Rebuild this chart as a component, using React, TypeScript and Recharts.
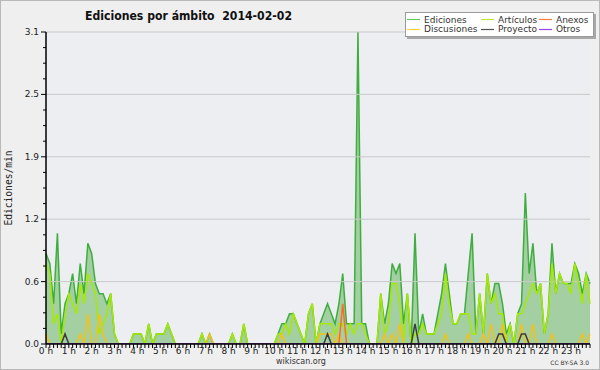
import React from 'react';
import { ComposedChart, Area, Line, XAxis, YAxis, ReferenceLine, CartesianGrid } from 'recharts';

// 10-minute slots, 0:00 .. 23:50 (144 values per series), edits per minute
const ediciones = [
  0.9, 0.8, 0.4, 1.1, 0.1, 0.4, 0.5, 0.7, 0.4, 0.8, 0.5, 1.0,
  0.9, 0.6, 0.5, 0.5, 0.4, 0.5, 0.1, 0, 0, 0, 0, 0.1,
  0.1, 0.1, 0, 0.2, 0, 0.1, 0.1, 0.1, 0.2, 0.1, 0, 0,
  0, 0, 0, 0, 0, 0.1, 0, 0.1, 0, 0, 0, 0,
  0, 0.1, 0, 0, 0.2, 0, 0, 0, 0, 0, 0, 0,
  0, 0.1, 0.2, 0.2, 0.3, 0.3, 0.2, 0.1, 0, 0.3, 0.4, 0,
  0.2, 0.3, 0.4, 0.3, 0.2, 0.4, 0.7, 0.2, 0.2, 0.2, 3.1, 0.2,
  0.2, 0, 0, 0, 0.5, 0.2, 0.4, 0.8, 0.7, 0.8, 0.2, 0.5,
  0, 1.1, 0.1, 0.3, 0.1, 0.1, 0.1, 0.3, 0.5, 0.8, 0.5, 0.2,
  0.2, 0.3, 0.3, 0.7, 1.1, 0.1, 0.5, 0.1, 0.7, 0.4, 0.6, 0.6,
  0.4, 0.1, 0.2, 0, 0.3, 0.4, 1.5, 0.7, 1.0, 0.5, 0.6, 0.1,
  0.3, 1.0, 0.5, 0.7, 0.6, 0.6, 0.6, 0.8, 0.7, 0.5, 0.7, 0.6,
];

const articulos = [
  0.8, 0.7, 0.2, 0.3, 0, 0.3, 0.5, 0.4, 0.3, 0.6, 0.4, 0.7,
  0.6, 0.5, 0.1, 0.2, 0.3, 0.5, 0.1, 0, 0, 0, 0, 0.1,
  0.1, 0.1, 0, 0.2, 0, 0.1, 0.1, 0.1, 0.2, 0.1, 0, 0,
  0, 0, 0, 0, 0, 0.1, 0, 0, 0, 0, 0, 0,
  0, 0.1, 0, 0, 0.2, 0, 0, 0, 0, 0, 0, 0,
  0, 0.1, 0.1, 0.2, 0.1, 0.3, 0.2, 0.1, 0, 0.3, 0.4, 0,
  0.2, 0.2, 0.2, 0.2, 0.1, 0.2, 0.2, 0.1, 0.2, 0.1, 0.2, 0.2,
  0.1, 0, 0, 0, 0.5, 0.1, 0.2, 0.6, 0.6, 0.4, 0, 0.5,
  0, 0.1, 0.1, 0.2, 0.1, 0.1, 0.1, 0.2, 0.3, 0.7, 0.4, 0.2,
  0.2, 0.3, 0.3, 0.3, 0.1, 0.1, 0.5, 0.1, 0.7, 0.4, 0.5, 0.3,
  0.3, 0, 0.2, 0, 0.3, 0.3, 0.4, 0.5, 0.6, 0.5, 0.6, 0.1,
  0.3, 0.8, 0.5, 0.7, 0.6, 0.6, 0.5, 0.8, 0.6, 0.4, 0.7, 0.4,
];

const anexos = [
  0, 0, 0, 0, 0, 0, 0, 0, 0, 0, 0, 0,
  0, 0, 0, 0, 0, 0, 0, 0, 0, 0, 0, 0,
  0, 0, 0, 0, 0, 0, 0, 0, 0, 0, 0, 0,
  0, 0, 0, 0, 0, 0, 0, 0, 0, 0, 0, 0,
  0, 0, 0, 0, 0, 0, 0, 0, 0, 0, 0, 0,
  0, 0, 0, 0, 0, 0, 0, 0, 0, 0, 0, 0,
  0, 0, 0, 0, 0, 0, 0.4, 0, 0, 0, 0, 0,
  0, 0, 0, 0, 0, 0, 0, 0, 0, 0, 0, 0,
  0, 0, 0, 0, 0, 0, 0, 0, 0, 0, 0, 0,
  0, 0, 0, 0, 0, 0, 0, 0, 0, 0, 0, 0,
  0, 0, 0, 0, 0, 0, 0, 0, 0, 0, 0, 0,
  0, 0, 0, 0, 0, 0, 0, 0, 0, 0, 0, 0,
];

const discusiones = [
  0.1, 0, 0, 0, 0, 0, 0, 0, 0, 0.1, 0, 0.3,
  0, 0, 0.3, 0.1, 0, 0, 0, 0, 0, 0, 0, 0,
  0, 0, 0, 0, 0, 0, 0, 0, 0, 0, 0, 0,
  0, 0, 0, 0, 0, 0, 0, 0.1, 0, 0, 0, 0,
  0, 0, 0, 0, 0, 0, 0, 0, 0, 0, 0, 0,
  0, 0, 0.1, 0, 0, 0, 0, 0, 0, 0, 0, 0,
  0.1, 0.1, 0.1, 0.1, 0, 0.1, 0, 0, 0, 0, 0, 0,
  0, 0, 0, 0, 0, 0.1, 0, 0.1, 0, 0.2, 0, 0,
  0, 0, 0, 0, 0, 0, 0, 0, 0, 0.1, 0, 0,
  0, 0, 0, 0.1, 0, 0, 0, 0.1, 0, 0.2, 0, 0,
  0.2, 0, 0, 0, 0, 0.2, 0, 0, 0.2, 0, 0, 0,
  0, 0.1, 0, 0, 0, 0, 0, 0, 0, 0.1, 0, 0.1,
];

const proyecto = [
  0, 0, 0, 0, 0, 0.1, 0, 0, 0, 0, 0, 0,
  0, 0, 0, 0, 0, 0, 0, 0, 0, 0, 0, 0,
  0, 0, 0, 0, 0, 0, 0, 0, 0, 0, 0, 0,
  0, 0, 0, 0, 0, 0, 0, 0, 0, 0, 0, 0,
  0, 0, 0, 0, 0, 0, 0, 0, 0, 0, 0, 0,
  0, 0, 0, 0, 0, 0, 0, 0, 0, 0, 0, 0,
  0, 0, 0.1, 0, 0, 0, 0, 0, 0, 0, 0, 0,
  0, 0, 0, 0, 0, 0, 0, 0, 0, 0, 0, 0,
  0, 0.2, 0, 0, 0, 0, 0, 0, 0, 0, 0, 0,
  0, 0, 0, 0, 0, 0, 0, 0, 0, 0, 0, 0.1,
  0.1, 0, 0, 0, 0, 0.1, 0.1, 0, 0, 0, 0, 0,
  0, 0, 0, 0, 0, 0, 0, 0, 0, 0, 0, 0,
];

const otros = [
  0, 0, 0, 0, 0, 0, 0, 0, 0, 0, 0, 0,
  0, 0, 0, 0, 0, 0, 0, 0, 0, 0, 0, 0,
  0, 0, 0, 0, 0, 0, 0, 0, 0, 0, 0, 0,
  0, 0, 0, 0, 0, 0, 0, 0, 0, 0, 0, 0,
  0, 0, 0, 0, 0, 0, 0, 0, 0, 0, 0, 0,
  0, 0, 0, 0, 0, 0, 0, 0, 0, 0, 0, 0,
  0, 0, 0, 0, 0, 0, 0, 0, 0, 0, 0, 0,
  0, 0, 0, 0, 0, 0, 0, 0, 0, 0, 0, 0,
  0, 0, 0, 0, 0, 0, 0, 0, 0, 0, 0, 0,
  0, 0, 0, 0, 0, 0, 0, 0, 0, 0, 0, 0,
  0, 0, 0, 0, 0, 0, 0, 0, 0, 0, 0, 0,
  0, 0, 0, 0, 0, 0, 0, 0, 0, 0, 0, 0,
];

const hourLabels = [
  '0 h', '1 h', '2 h', '3 h', '4 h', '5 h', '6 h', '7 h', '8 h', '9 h', '10 h', '11 h',
  '12 h', '13 h', '14 h', '15 h', '16 h', '17 h', '18 h', '19 h', '20 h', '21 h', '22 h', '23 h',
];

const yTickValues = [0, 0.62, 1.24, 1.86, 2.48, 3.1];
const yTickLabels = ['0.0', '0.6', '1.2', '1.9', '2.5', '3.1'];

const title = 'Ediciones por ámbito  2014-02-02';
const yTitle = 'Ediciones/min';

const legendItems = [
  { key: 'ediciones', name: 'Ediciones', color: '#66c766', col: 0, row: 0 },
  { key: 'articulos', name: 'Artículos', color: '#bde832', col: 1, row: 0 },
  { key: 'anexos', name: 'Anexos', color: '#ff7a45', col: 2, row: 0 },
  { key: 'discusiones', name: 'Discusiones', color: '#ffd23a', col: 0, row: 1 },
  { key: 'proyecto', name: 'Proyecto', color: '#555555', col: 1, row: 1 },
  { key: 'otros', name: 'Otros', color: '#9a45f5', col: 2, row: 1 },
];

const data = ediciones.map((v, i) => ({
  t: i,
  ediciones: v,
  articulos: articulos[i],
  anexos: anexos[i],
  discusiones: discusiones[i],
  proyecto: proyecto[i],
  otros: otros[i],
}));

const xTicks = data.map((d) => d.t);
const yTicks: number[] = [];
for (let k = 0; k < yTickValues.length - 1; k++) {
  for (let j = 0; j < 4; j++) {
    yTicks.push(yTickValues[k] + ((yTickValues[k + 1] - yTickValues[k]) * j) / 4);
  }
}
yTicks.push(yTickValues[yTickValues.length - 1]);

const FONT = '"DejaVu Sans", Verdana, sans-serif';

const XTick = (props: any) => {
  const { x, y, payload } = props;
  const i = payload.value as number;
  const isHour = i % 6 === 0;
  return (
    <g>
      <line x1={x} x2={x} y1={y} y2={y + 4} stroke="#000" strokeWidth={1} />
      {isHour && (
        <text x={x} y={y + 10} textAnchor="middle" fontSize={9} fill="#222" fontFamily={FONT}>
          {hourLabels[i / 6]}
        </text>
      )}
    </g>
  );
};

const YTick = (props: any) => {
  const { x, y, index } = props;
  const major = index % 4 === 0;
  return (
    <g>
      <line x1={major ? x - 5 : x - 3} x2={x} y1={y} y2={y} stroke="#000" strokeWidth={1} />
      {major && (
        <text x={x - 7} y={y + 3} textAnchor="end" fontSize={9} fill="#222" fontFamily={FONT}>
          {yTickLabels[index / 4]}
        </text>
      )}
    </g>
  );
};

export default function App() {
  return (
    <div
      style={{
        position: 'absolute',
        left: 0,
        top: 0,
        width: 600,
        height: 370,
        background: '#efefef',
      }}
    >
      <ComposedChart
        width={600}
        height={370}
        data={data}
        margin={{ top: 32, right: 10, bottom: 0, left: 0 }}
      >
        <CartesianGrid fill="#eceef1" horizontal={false} vertical={false} />
        {yTickValues.slice(1).map((v) => (
          <ReferenceLine key={v} y={v} stroke="#c9c9c9" strokeWidth={1} />
        ))}
        <Area
          type="linear"
          dataKey="ediciones"
          stroke="#3fae3f"
          strokeWidth={1.5}
          fill="#a3cfa3"
          fillOpacity={1}
          dot={false}
          activeDot={false}
          isAnimationActive={false}
        />
        <Line type="linear" dataKey="articulos" stroke="#a6ea00" strokeWidth={1.5} dot={false} activeDot={false} isAnimationActive={false} />
        <Line type="linear" dataKey="discusiones" stroke="#f2c21a" strokeWidth={1.5} dot={false} activeDot={false} isAnimationActive={false} />
        <Line type="linear" dataKey="anexos" stroke="#ff6a2c" strokeWidth={1.5} dot={false} activeDot={false} isAnimationActive={false} />
        <Line type="linear" dataKey="proyecto" stroke="#3c3c3c" strokeWidth={1.5} dot={false} activeDot={false} isAnimationActive={false} />
        <Line type="linear" dataKey="otros" stroke="#9933ff" strokeWidth={1.5} dot={false} activeDot={false} isAnimationActive={false} />
        <XAxis
          dataKey="t"
          type="number"
          domain={[0, 143]}
          ticks={xTicks}
          interval={0}
          height={26}
          tickSize={0}
          tickMargin={0}
          tickLine={false}
          axisLine={{ stroke: '#000', strokeWidth: 1.5 }}
          tick={<XTick />}
        />
        <YAxis
          type="number"
          domain={[0, 3.1]}
          ticks={yTicks}
          interval={0}
          width={46}
          tickSize={0}
          tickMargin={0}
          tickLine={false}
          axisLine={{ stroke: '#000', strokeWidth: 1.5 }}
          tick={<YTick />}
          allowDataOverflow
        />
      </ComposedChart>
      <svg
        width={600}
        height={370}
        style={{ position: 'absolute', left: 0, top: 0, pointerEvents: 'none' }}
      >
        <rect x={0.5} y={0.5} width={599} height={369} fill="none" stroke="#b9b9b9" />
        <text
          x={85}
          y={20}
          fontSize={13}
          fontWeight="bold"
          fontFamily={FONT}
          fill="#111"
          textLength={207}
          lengthAdjust="spacingAndGlyphs"
          style={{ whiteSpace: 'pre' }}
          xmlSpace="preserve"
        >
          {title}
        </text>
        <text
          transform="translate(12,188) rotate(-90)"
          textAnchor="middle"
          fontSize={10}
          fontFamily='"DejaVu Sans Mono", monospace'
          fill="#222"
          textLength={75}
          lengthAdjust="spacingAndGlyphs"
        >
          {yTitle}
        </text>
        <rect x={407} y={14} width={189} height={25} fill="#a8a8a8" />
        <rect x={405.5} y={12.5} width={188} height={24} fill="#ffffff" stroke="#9a9a9a" />
        {legendItems.map((it) => {
          const colX = [407, 481, 539][it.col];
          const lineY = it.row === 0 ? 19.5 : 29.5;
          const textY = it.row === 0 ? 22.5 : 32.3;
          return (
            <g key={it.key}>
              <line x1={colX} x2={colX + 13} y1={lineY} y2={lineY} stroke={it.color} strokeWidth={1.2} />
              <text x={colX + 17} y={textY} fontSize={9} fontFamily={FONT} fill="#333">
                {it.name}
              </text>
            </g>
          );
        })}
        <text x={301} y={364} textAnchor="middle" fontSize={8} fontFamily={FONT} fill="#333">
          wikiscan.org
        </text>
        <text x={589} y={364.5} textAnchor="end" fontSize={6} fontFamily={FONT} fill="#333">
          CC BY-SA 3.0
        </text>
      </svg>
    </div>
  );
}
